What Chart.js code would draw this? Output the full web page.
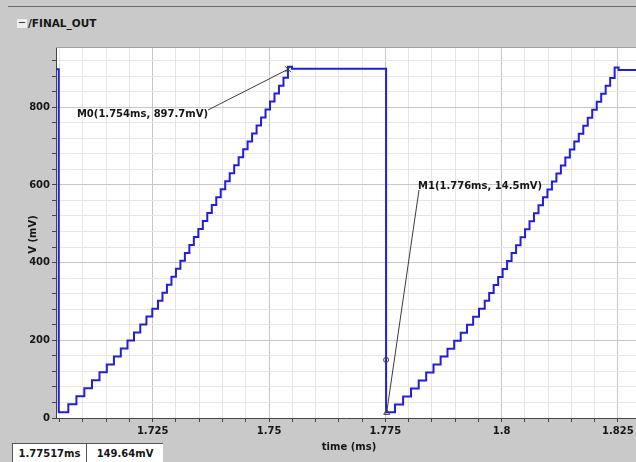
<!DOCTYPE html>
<html>
<head>
<meta charset="utf-8">
<script src="https://cdn.jsdelivr.net/npm/chart.js@4"></script>
<style>
html, body { margin: 0; padding: 0; background: #c9c9c9; }
#wrap { position: relative; width: 636px; height: 462px; overflow: hidden; font-family: "DejaVu Sans", sans-serif; color: #161616; }
#topLine { position: absolute; left: 8px; top: 6px; width: 628px; height: 1px; background: #6a6a6a; }
#sigName { position: absolute; left: 17px; top: 16px; font-size: 10.5px; font-weight: bold; line-height: 14px; }
#sigName .fold { display: inline-block; width: 10px; height: 9px; line-height: 8px; background: #efefef; text-align: center; margin-right: 1px; vertical-align: 1px; font-size: 10px; font-weight: normal; }
#chart { position: absolute; left: 0; top: 0; }
.status { position: absolute; top: 443px; height: 19px; background: #fff; border-top: 1px solid #555; border-left: 1px solid #555; font-size: 10px; font-weight: bold; line-height: 19px; text-align: center; box-sizing: border-box; }
</style>
</head>
<body>
<div id="wrap">
  <div id="topLine"></div>
  <div id="sigName"><span class="fold">−</span>/FINAL_OUT</div>
  <canvas id="chart" width="636" height="462"></canvas>
  <div class="status" style="left:12px; width:74px;">1.77517ms</div>
  <div class="status" style="left:86px; width:77px;">149.64mV</div>
</div>
<script>
// axis ranges (ms, mV)
const xMin = 1.70421;
const xMax = 1.82889;
const yMin = 0;
const yMax = 955;

// output held high, then drops at the start of the window
const headTimes = [1.70421, 1.70480];
const headVolts = [898, 15];

// first staircase ramp (each value starts at its time)
const ramp1Times = [1.70686, 1.70860, 1.71030, 1.71195, 1.71356, 1.71513, 1.71666, 1.71814, 1.71958, 1.72098,
  1.72233, 1.72365, 1.72491, 1.72614, 1.72710, 1.72806, 1.72903, 1.72999, 1.73095, 1.73192,
  1.73288, 1.73384, 1.73481, 1.73577, 1.73673, 1.73770, 1.73866, 1.73962, 1.74059, 1.74155,
  1.74251, 1.74347, 1.74444, 1.74540, 1.74636, 1.74733, 1.74829, 1.74925, 1.75022, 1.75118,
  1.75214, 1.75311, 1.75407];
const ramp1Volts = [35.5, 56, 76.5, 97, 117.5, 138, 158.5, 179, 199.5, 220,
  240.5, 261, 281.5, 302, 322.5, 343, 363.5, 384, 404.5, 425,
  445.5, 466, 486.5, 507, 527.5, 548, 568.5, 589, 609.5, 630,
  650.5, 671, 691.5, 712, 732.5, 753, 773.5, 794, 814.5, 835,
  855.5, 876, 904];

// flat top, then the reset
const holdTimes = [1.75493, 1.77517];
const holdVolts = [898.7, 14.5];

// second staircase ramp
const ramp2Times = [1.77709, 1.77883, 1.78053, 1.78218, 1.78379, 1.78536, 1.78689, 1.78837, 1.78981, 1.79121,
  1.79256, 1.79388, 1.79514, 1.79637, 1.79733, 1.79829, 1.79926, 1.80022, 1.80118, 1.80215,
  1.80311, 1.80407, 1.80504, 1.80600, 1.80696, 1.80793, 1.80889, 1.80985, 1.81082, 1.81178,
  1.81274, 1.81370, 1.81467, 1.81563, 1.81659, 1.81756, 1.81852, 1.81948, 1.82045, 1.82141,
  1.82237, 1.82334, 1.82430];
const ramp2Volts = [35, 55.5, 76, 96.5, 117, 137.5, 158, 178.5, 199, 219.5,
  240, 260.5, 281, 301.5, 322, 342.5, 363, 383.5, 404, 424.5,
  445, 465.5, 486, 506.5, 527, 547.5, 568, 588.5, 609, 629.5,
  650, 670.5, 691, 711.5, 732, 752.5, 773, 793.5, 814, 834.5,
  855, 875.5, 902];

const tailTimes = [1.82516, 1.82889];
const tailVolts = [896, 896];

// markers
const markerNames = ['M0(1.754ms, 897.7mV)', 'M1(1.776ms, 14.5mV)'];
const markerTimes = [1.7541, 1.7753];
const markerVolts = [897.7, 14.5];
const labelTimes = [1.73689, 1.78224];
const labelVolts = [792.8, 586.9];

const cursorTime = 1.77517;
const cursorVolt = 149.64;

const allTimes = [...headTimes, ...ramp1Times, ...holdTimes, ...ramp2Times, ...tailTimes];
const allVolts = [...headVolts, ...ramp1Volts, ...holdVolts, ...ramp2Volts, ...tailVolts];
const points = allTimes.map((t, i) => ({ x: t, y: allVolts[i] }));

const FONT = 'DejaVu Sans';
const isMajorX = v => Math.abs(v / 0.025 - Math.round(v / 0.025)) < 1e-6;
const isMajorY = v => Math.abs(v % 200) < 1e-6;

const overlay = {
    id: 'overlay',
    beforeDraw(chart) {
        const { ctx, chartArea: a } = chart;
        ctx.save();
        ctx.fillStyle = '#ffffff';
        ctx.fillRect(a.left, a.top, a.right - a.left, a.bottom - a.top);
        ctx.restore();
    },
    afterDatasetsDraw(chart) {
        const { ctx, chartArea: a, scales: { x, y } } = chart;
        ctx.save();
        ctx.strokeStyle = '#a0a0a0';
        ctx.lineWidth = 1;
        ctx.beginPath();
        ctx.moveTo(a.left, a.top + 0.5);
        ctx.lineTo(a.right, a.top + 0.5);
        ctx.stroke();

        ctx.strokeStyle = '#3c3c3c';
        ctx.fillStyle = '#161616';
        ctx.font = `bold 10px "${FONT}"`;
        ctx.textBaseline = 'middle';
        markerNames.forEach((name, i) => {
            const px = x.getPixelForValue(markerTimes[i]);
            const py = y.getPixelForValue(markerVolts[i]);
            const lx = x.getPixelForValue(labelTimes[i]);
            const ly = y.getPixelForValue(labelVolts[i]);
            ctx.beginPath();
            ctx.moveTo(px, py);
            ctx.lineTo(lx, ly);
            ctx.stroke();
            ctx.beginPath();
            if (i === 0) {
                ctx.moveTo(px - 3, py - 3); ctx.lineTo(px + 3, py + 3);
                ctx.moveTo(px + 3, py - 3); ctx.lineTo(px - 3, py + 3);
            } else {
                ctx.moveTo(px, py - 3); ctx.lineTo(px + 3, py + 2); ctx.lineTo(px - 3, py + 2); ctx.closePath();
            }
            ctx.stroke();
            if (i === 0) {
                ctx.textAlign = 'right';
                ctx.fillText(name, lx, ly + 4);
            } else {
                ctx.textAlign = 'left';
                ctx.fillText(name, lx - 1, ly - 4);
            }
        });

        const cx = x.getPixelForValue(cursorTime);
        const cy = y.getPixelForValue(cursorVolt);
        ctx.beginPath();
        ctx.arc(cx, cy, 2.5, 0, Math.PI * 2);
        ctx.stroke();
        ctx.restore();
    },
    afterDraw(chart) {
        const { ctx, chartArea: a } = chart;
        ctx.save();
        ctx.fillStyle = '#161616';
        ctx.font = `bold 10px "${FONT}"`;
        ctx.textAlign = 'center';
        ctx.textBaseline = 'middle';
        ctx.fillText('time (ms)', (a.left + a.right) / 2 + 3, 447);
        ctx.translate(33, (a.top + a.bottom) / 2 + 2);
        ctx.rotate(-Math.PI / 2);
        ctx.fillText('V (mV)', 0, 0);
        ctx.restore();
    }
};

new Chart(document.getElementById('chart'), {
    type: 'line',
    data: {
        datasets: [{
            data: points,
            borderColor: '#2020d8',
            borderWidth: 2,
            pointRadius: 0,
            stepped: true,
            fill: false
        }]
    },
    options: {
        responsive: false,
        animation: false,
        devicePixelRatio: 1,
        layout: { padding: { top: 47, left: 0, right: 0, bottom: 0 } },
        plugins: { legend: { display: false }, tooltip: { enabled: false } },
        scales: {
            x: {
                type: 'linear',
                min: xMin,
                max: xMax,
                afterFit: s => { s.height = 44; s.paddingLeft = 0; s.paddingRight = 0; },
                ticks: {
                    stepSize: 0.005,
                    includeBounds: false,
                    autoSkip: false,
                    maxRotation: 0,
                    padding: 3,
                    color: '#161616',
                    font: { family: FONT, size: 10, weight: 'bold' },
                    callback: v => isMajorX(v) ? String(+v.toFixed(3)) : ''
                },
                grid: {
                    color: c => isMajorX(c.tick.value) ? '#c6c6c6' : '#e6e6e6',
                    tickColor: '#444',
                    tickLength: 4
                },
                border: { color: '#444' }
            },
            y: {
                min: yMin,
                max: yMax,
                afterFit: s => { s.width = 56; s.paddingTop = 0; s.paddingBottom = 0; },
                ticks: {
                    stepSize: 40,
                    includeBounds: false,
                    autoSkip: false,
                    padding: 2,
                    color: '#161616',
                    font: { family: FONT, size: 10, weight: 'bold' },
                    callback: v => isMajorY(v) ? String(v) : ''
                },
                grid: {
                    color: c => isMajorY(c.tick.value) ? '#c6c6c6' : '#e6e6e6',
                    tickColor: '#444',
                    tickLength: 4
                },
                border: { color: '#444' }
            }
        }
    },
    plugins: [overlay]
});
</script>
</body>
</html>
